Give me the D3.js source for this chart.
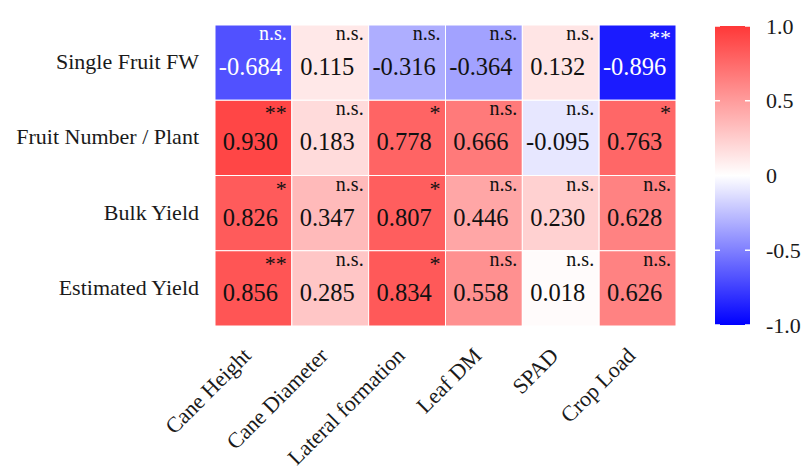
<!DOCTYPE html>
<html>
<head>
<meta charset="utf-8">
<script src="https://cdn.jsdelivr.net/npm/d3@7"></script>
<style>
  body { margin: 0; background: #fff; }
  text { font-family: "Liberation Serif", "Times New Roman", serif; }
</style>
</head>
<body>
<div id="chart"></div>
<script>
const rowNames = ["Single Fruit FW", "Fruit Number / Plant", "Bulk Yield", "Estimated Yield"];
const colNames = ["Cane Height", "Cane Diameter", "Lateral formation", "Leaf DM", "SPAD", "Crop Load"];

const singleFruitFW = [-0.684, 0.115, -0.316, -0.364, 0.132, -0.896];
const fruitNumber = [0.930, 0.183, 0.778, 0.666, -0.095, 0.763];
const bulkYield = [0.826, 0.347, 0.807, 0.446, 0.230, 0.628];
const estimatedYield = [0.856, 0.285, 0.834, 0.558, 0.018, 0.626];

const sigSingleFruitFW = ["n.s.", "n.s.", "n.s.", "n.s.", "n.s.", "**"];
const sigFruitNumber = ["**", "n.s.", "*", "n.s.", "n.s.", "*"];
const sigBulkYield = ["*", "n.s.", "*", "n.s.", "n.s.", "n.s."];
const sigEstimatedYield = ["**", "n.s.", "*", "n.s.", "n.s.", "n.s."];

const legendTicks = [-1, -0.5, 0, 0.5, 1];

const values = [singleFruitFW, fruitNumber, bulkYield, estimatedYield];
const sigs = [sigSingleFruitFW, sigFruitNumber, sigBulkYield, sigEstimatedYield];

const cells = [];
rowNames.forEach((r, i) => {
    colNames.forEach((c, j) => {
        cells.push({ row: r, col: c, value: values[i][j], sig: sigs[i][j] });
    });
});

const width = 805, height = 472;
const grid = { left: 215, top: 25, right: 676, bottom: 326 };

const svg = d3.select("#chart")
    .append("svg")
    .attr("width", width)
    .attr("height", height);

const x = d3.scaleBand()
    .domain(colNames)
    .range([grid.left, grid.right]);

const y = d3.scaleBand()
    .domain(rowNames)
    .range([grid.top, grid.bottom]);

const color = d3.scaleLinear()
    .domain([-1, 0, 1])
    .range(["#0000ff", "#ffffff", "#ff3838"]);

svg.selectAll("rect.cell")
    .data(cells)
    .join("rect")
    .attr("class", "cell")
    .attr("x", d => x(d.col))
    .attr("y", d => y(d.row))
    .attr("width", x.bandwidth())
    .attr("height", y.bandwidth())
    .attr("fill", d => color(d.value))
    .attr("stroke", "#fff")
    .attr("stroke-width", 1);

const textColor = d => d.value < -0.5 ? "#fff" : "#111";

svg.selectAll("text.value")
    .data(cells)
    .join("text")
    .attr("class", "value")
    .attr("x", d => x(d.col) + x.bandwidth() / 2 - 3)
    .attr("y", d => y(d.row) + 50)
    .attr("text-anchor", "middle")
    .attr("font-size", 24.5)
    .attr("fill", textColor)
    .text(d => d.value.toFixed(3));

svg.selectAll("text.sig")
    .data(cells)
    .join("text")
    .attr("class", "sig")
    .attr("x", d => x(d.col) + x.bandwidth() - 5)
    .attr("y", d => y(d.row) + (d.sig === "n.s." ? 15 : 20))
    .attr("text-anchor", "end")
    .attr("font-size", d => d.sig === "n.s." ? 20 : 22)
    .attr("font-family", d => d.sig === "n.s." ? null : "Liberation Sans, Arial, sans-serif")
    .attr("fill", textColor)
    .text(d => d.sig);

// row labels
svg.append("g")
    .attr("transform", `translate(${grid.left - 16},0)`)
    .call(d3.axisLeft(y).tickSize(0).tickPadding(0))
    .call(g => g.select(".domain").remove())
    .selectAll("text")
    .attr("font-family", "Liberation Serif, Times New Roman, serif")
    .attr("font-size", 22)
    .attr("fill", "#1a1a1a")
    .attr("dy", "0.3em");

// column labels
svg.append("g")
    .attr("transform", `translate(0,${grid.bottom})`)
    .call(d3.axisBottom(x).tickSize(0).tickPadding(0))
    .call(g => g.select(".domain").remove())
    .selectAll("text")
    .attr("font-family", "Liberation Serif, Times New Roman, serif")
    .attr("font-size", 22)
    .attr("fill", "#1a1a1a")
    .attr("text-anchor", "end")
    .attr("dy", 0)
    .attr("transform", "translate(-1,31) rotate(-45)");

// colour bar
const bar = { x: 715, w: 35, top: 26, bottom: 325 };
const ly = d3.scaleLinear().domain([-1, 1]).range([bar.bottom, bar.top]);

const grad = svg.append("defs").append("linearGradient")
    .attr("id", "cbar")
    .attr("x1", 0).attr("y1", 1)
    .attr("x2", 0).attr("y2", 0);
grad.selectAll("stop")
    .data(d3.range(0, 1.0001, 0.05))
    .join("stop")
    .attr("offset", d => d)
    .attr("stop-color", d => color(d * 2 - 1));

svg.append("rect")
    .attr("x", bar.x)
    .attr("y", bar.top)
    .attr("width", bar.w)
    .attr("height", bar.bottom - bar.top)
    .attr("fill", "url(#cbar)");

const legendAxis = svg.append("g")
    .attr("transform", `translate(${bar.x + bar.w},0)`)
    .call(d3.axisRight(ly)
        .tickValues(legendTicks)
        .tickSize(0)
        .tickPadding(16)
        .tickFormat(d => d === 0 ? "0" : d.toFixed(1)));
legendAxis.select(".domain").remove();
legendAxis.selectAll("text")
    .attr("font-family", "Liberation Serif, Times New Roman, serif")
    .attr("font-size", 22)
    .attr("fill", "#1a1a1a");

svg.selectAll("line.notch-l")
    .data(legendTicks)
    .join("line")
    .attr("class", "notch-l")
    .attr("x1", bar.x).attr("x2", bar.x + 5)
    .attr("y1", d => ly(d)).attr("y2", d => ly(d))
    .attr("stroke", "#fff")
    .attr("stroke-width", 1.5);

svg.selectAll("line.notch-r")
    .data(legendTicks)
    .join("line")
    .attr("class", "notch-r")
    .attr("x1", bar.x + bar.w - 5).attr("x2", bar.x + bar.w)
    .attr("y1", d => ly(d)).attr("y2", d => ly(d))
    .attr("stroke", "#fff")
    .attr("stroke-width", 1.5);
</script>
</body>
</html>
